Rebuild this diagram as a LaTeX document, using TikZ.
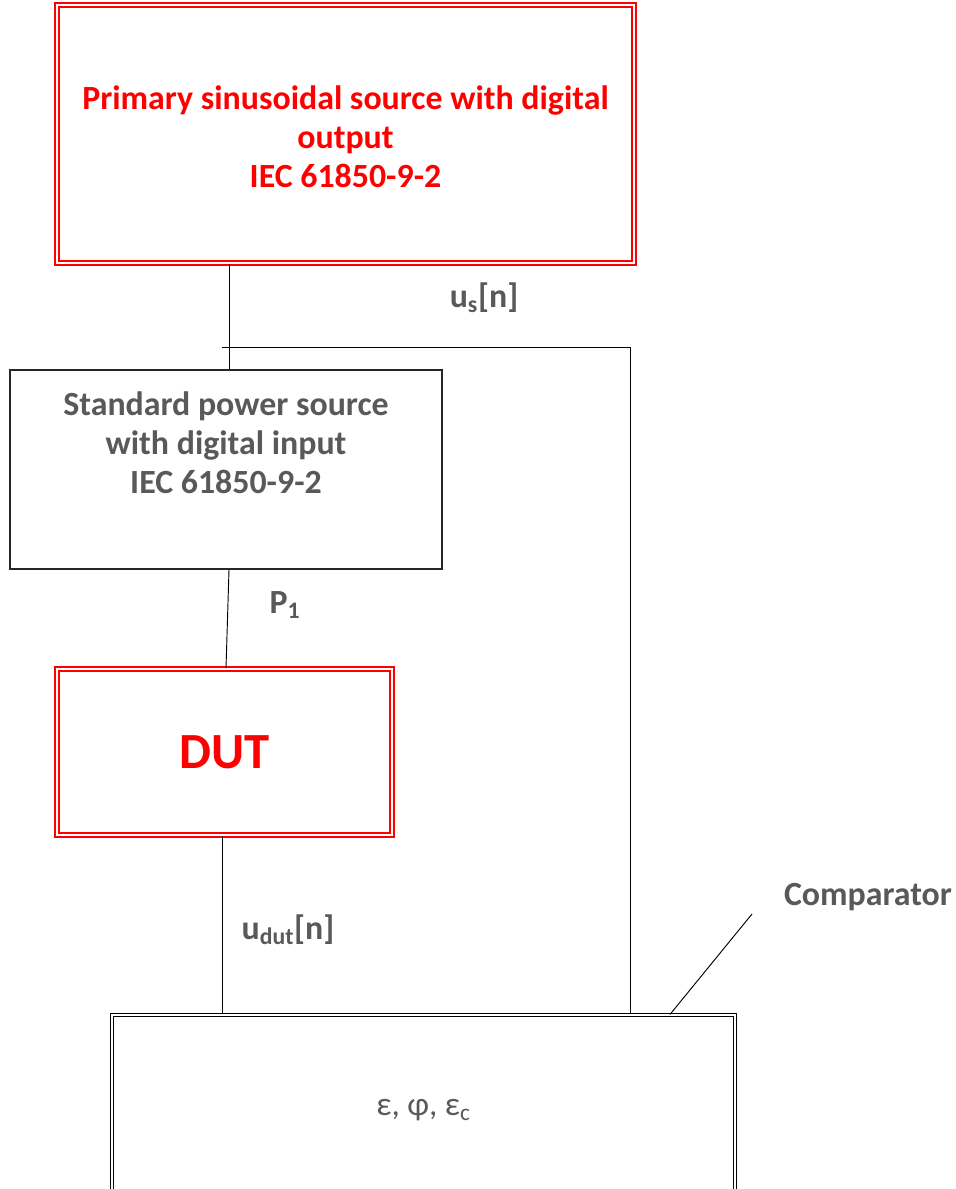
\documentclass[tikz,border=0pt]{standalone}
\usepackage{fontspec}
\setmainfont{Carlito}
\definecolor{txtgray}{HTML}{595959}
\definecolor{boxred}{HTML}{FF0000}
\begin{document}
\begin{tikzpicture}[x=0.75pt,y=-0.75pt,
  redbox/.style={draw=boxred, double=white, double distance=2pt, line width=0.9pt, fill=white},
  blkbox/.style={draw=black!85, line width=1pt, fill=white},
  cmpbox/.style={draw=black, double=white, double distance=1.6pt, line width=0.9pt, fill=white},
  wire/.style={draw=black, line width=0.7pt},
  lbl/.style={text=txtgray, font=\bfseries\fontsize{25.4}{29.25}\selectfont, inner sep=0pt}
]
\useasboundingbox (0,0) rectangle (956,1189);
\clip (0,0) rectangle (956,1189);

% boxes
\node[redbox, minimum width=577*0.75pt, minimum height=258*0.75pt] (src) at (345.5,134) {};
\node[text=boxred, font=\bfseries\fontsize{25.4}{29.25}\selectfont, align=center, inner sep=0pt] (srctext) at (345.5,137)
  {Primary sinusoidal source with digital\\output\\IEC 61850-9-2};

\node[blkbox, minimum width=432*0.75pt, minimum height=199*0.75pt] (std) at (226,469.5) {};
\node[lbl, align=center] (stdtext) at (226,443)
  {Standard power source\\with digital input\\IEC 61850-9-2};

\node[redbox, minimum width=335*0.75pt, minimum height=166*0.75pt,
  text=boxred, font=\bfseries\fontsize{38}{44}\selectfont] (dut) at (224.5,752) {DUT};

\node[cmpbox, minimum width=623*0.75pt, minimum height=190*0.75pt,
  text=txtgray, font=\fontsize{25}{28}\selectfont] (cmp) at (423.5,1110) {ε, φ, ε\textsubscript{c}};

% labels
\node[lbl] (us) at (484,298) {u\textsubscript{s}[n]};
\node[lbl] (p1) at (285,605) {P\textsubscript{1}};
\node[lbl] (udut) at (288,930) {u\textsubscript{dut}[n]};
\node[lbl] (cmplbl) at (868,897) {Comparator};

% coordinates
\coordinate (xa) at (229,0);
\coordinate (xb) at (226,0);
\coordinate (xc) at (222,0);
\coordinate (xr) at (630,0);
\coordinate (tap) at (222,347);
\coordinate (lead) at (752,914);
\coordinate (xl) at (670,0);

% connectors
\draw[wire] (src.south -| xa) -- (std.north -| xa);
\draw[wire] (tap) -- (tap -| xr) -- (cmp.north -| xr);
\draw[wire] (std.south -| xa) -- (dut.north -| xb);
\draw[wire] (dut.south -| xc) -- (cmp.north -| xc);
\draw[wire] (lead) -- (cmp.north -| xl);
\end{tikzpicture}
\end{document}
